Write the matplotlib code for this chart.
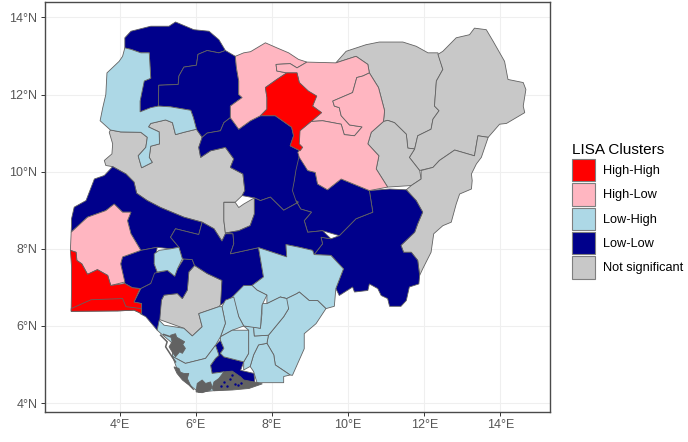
import matplotlib
matplotlib.use("Agg")
import matplotlib.pyplot as plt
from matplotlib.patches import Patch

plt.rcParams["font.family"] = ["Liberation Sans", "DejaVu Sans"]

# state outlines, (lon, lat)
sokoto = [(4.14,13.47),(4.30,13.64),(4.82,13.77),(5.30,13.77),(5.47,13.88),(5.95,13.68),(6.35,13.64),(6.61,13.42),(6.78,13.14),(6.61,13.08),(6.30,13.14),(6.06,13.04),(6.02,12.76),(5.69,12.71),(5.56,12.48),(5.54,12.26),(5.03,12.24),(5.02,11.70),(4.82,11.65),(4.54,11.55),(4.54,11.83),(4.64,12.35),(4.82,12.42),(4.78,13.08),(4.56,13.08),(4.30,13.17),(4.14,13.20)]
zamfara = [(6.78,13.14),(7.04,12.99),(7.07,12.69),(7.13,12.35),(7.13,12.0),(7.22,11.92),(7.09,11.83),(6.91,11.70),(6.91,11.40),(6.74,11.27),(6.65,11.06),(6.30,11.0),(6.17,10.89),(6.02,11.10),(5.94,11.40),(5.87,11.59),(5.34,11.68),(5.02,11.70),(5.03,12.24),(5.54,12.26),(5.56,12.48),(5.69,12.71),(6.02,12.76),(6.06,13.04),(6.30,13.14),(6.61,13.08)]
kebbi = [(4.14,13.21),(4.30,13.17),(4.56,13.08),(4.78,13.08),(4.82,12.42),(4.65,12.35),(4.54,11.83),(4.54,11.55),(4.82,11.66),(5.02,11.70),(5.34,11.68),(5.87,11.59),(5.94,11.40),(6.02,11.10),(5.69,11.02),(5.47,10.96),(5.39,11.27),(5.21,11.34),(4.82,11.25),(4.76,11.16),(5.04,11.03),(5.05,10.72),(4.82,10.66),(4.78,10.37),(4.86,10.24),(4.58,10.10),(4.49,10.41),(4.69,10.63),(4.73,10.89),(4.56,11.02),(4.03,11.03),(3.76,11.08),(3.49,11.32),(3.56,11.66),(3.64,12.0),(3.67,12.56),(3.99,12.86),(4.08,12.99)]
niger = [(3.76,11.08),(4.03,11.03),(4.56,11.02),(4.73,10.89),(4.69,10.63),(4.49,10.41),(4.58,10.10),(4.86,10.24),(4.78,10.37),(4.82,10.66),(5.05,10.72),(5.04,11.03),(4.76,11.16),(4.82,11.25),(5.21,11.34),(5.39,11.27),(5.47,10.96),(5.69,11.02),(6.02,11.10),(6.17,10.89),(6.08,10.63),(6.13,10.37),(6.39,10.54),(6.78,10.63),(7.0,10.33),(6.91,10.11),(7.24,9.94),(7.29,9.51),(7.22,9.38),(7.04,9.21),(6.74,9.21),(6.74,8.73),(6.78,8.39),(6.69,8.20),(6.48,8.52),(6.17,8.69),(5.69,8.82),(5.08,9.07),(4.73,9.25),(4.45,9.44),(4.38,9.73),(4.17,9.94),(3.82,10.13),(3.64,10.16),(3.60,10.29),(3.80,10.46),(3.82,10.72),(3.73,11.02)]
fct = [(6.74,9.20),(7.04,9.20),(7.13,9.07),(7.26,9.16),(7.54,9.32),(7.54,8.90),(7.43,8.60),(7.13,8.47),(6.78,8.41),(6.74,8.73)]
kwara = [(3.82,10.13),(4.17,9.94),(4.38,9.73),(4.45,9.44),(4.73,9.25),(5.08,9.07),(5.69,8.82),(6.17,8.69),(6.08,8.37),(5.47,8.52),(5.34,8.30),(5.56,8.04),(5.34,8.0),(4.99,8.04),(4.56,7.96),(4.30,8.39),(4.21,8.73),(4.30,8.95),(4.08,8.95),(3.86,9.16),(3.64,8.99),(3.16,8.82),(2.73,8.43),(2.74,8.64),(2.74,8.78),(2.81,9.08),(3.12,9.25),(3.34,9.81),(3.60,9.90)]
oyo = [(2.73,8.43),(3.16,8.82),(3.64,8.99),(3.86,9.16),(4.08,8.95),(4.30,8.95),(4.21,8.73),(4.30,8.39),(4.56,7.96),(4.08,7.79),(4.03,7.61),(4.14,7.14),(3.77,7.05),(3.69,7.31),(3.42,7.46),(3.16,7.34),(3.01,7.61),(2.88,7.70),(2.86,7.91),(2.71,7.96)]
ogun = [(2.71,7.96),(2.86,7.91),(2.88,7.70),(3.01,7.61),(3.16,7.34),(3.42,7.46),(3.69,7.31),(3.77,7.05),(4.14,7.10),(4.34,6.99),(4.54,6.97),(4.38,6.62),(4.58,6.58),(4.58,6.32),(4.38,6.41),(3.95,6.39),(2.73,6.38),(2.74,6.99),(2.74,7.53)]
lagos = [(2.73,6.45),(3.25,6.68),(4.08,6.71),(4.17,6.50),(4.58,6.45),(4.58,6.32),(4.38,6.41),(3.95,6.39),(2.73,6.38)]
osun = [(4.56,7.96),(4.99,8.04),(4.91,7.61),(4.99,7.40),(4.82,7.10),(4.56,6.97),(4.34,6.99),(4.14,7.10),(4.03,7.61),(4.08,7.79)]
ekiti = [(4.91,7.87),(5.04,7.96),(5.34,8.0),(5.56,8.04),(5.65,7.74),(5.52,7.48),(5.45,7.29),(5.26,7.44),(4.99,7.40),(4.91,7.61)]
ondo = [(4.56,6.97),(4.82,7.10),(4.92,7.37),(5.26,7.44),(5.45,7.29),(5.52,7.48),(5.69,7.74),(5.91,7.72),(5.97,7.57),(5.82,7.40),(5.78,6.93),(5.65,6.71),(5.52,6.84),(5.17,6.80),(5.10,6.67),(5.06,6.19),(4.99,5.89),(4.69,6.24),(4.54,6.32),(4.58,6.58),(4.38,6.62)]
edo = [(5.97,7.57),(6.30,7.36),(6.69,7.18),(6.67,6.58),(6.61,6.50),(6.08,6.32),(6.17,5.98),(5.91,5.74),(5.69,5.94),(5.04,6.17),(5.10,6.67),(5.17,6.80),(5.52,6.84),(5.65,6.71),(5.78,6.93),(5.82,7.40)]
kogi = [(6.17,8.69),(6.48,8.52),(6.69,8.20),(6.78,8.39),(6.98,8.39),(7.0,8.13),(6.91,7.87),(7.65,8.03),(7.78,7.27),(7.48,7.05),(6.96,6.75),(6.65,6.54),(6.69,7.18),(6.30,7.36),(5.97,7.57),(5.91,7.72),(5.65,7.74),(5.56,8.04),(5.34,8.30),(5.47,8.52),(6.08,8.37)]
kaduna = [(6.17,10.89),(6.30,11.0),(6.65,11.06),(6.74,11.27),(6.91,11.40),(7.13,11.10),(7.44,11.32),(7.70,11.45),(8.09,11.45),(8.52,11.15),(8.57,10.93),(8.48,10.67),(8.74,10.54),(8.74,10.29),(8.61,9.86),(8.57,9.51),(8.70,9.21),(8.31,9.0),(7.96,9.34),(7.70,9.25),(7.54,9.32),(7.22,9.38),(7.29,9.51),(7.24,9.94),(6.91,10.11),(7.0,10.33),(6.78,10.63),(6.39,10.54),(6.13,10.37),(6.08,10.63)]
katsina = [(7.04,12.99),(7.26,13.08),(7.44,13.11),(7.83,13.34),(8.13,13.21),(8.44,13.08),(8.70,12.91),(8.92,12.84),(8.66,12.69),(8.48,12.80),(8.11,12.78),(8.13,12.61),(8.39,12.56),(8.13,12.39),(7.83,12.18),(7.87,11.92),(7.87,11.62),(7.70,11.45),(7.44,11.32),(7.13,11.10),(6.91,11.40),(6.91,11.70),(7.09,11.83),(7.22,11.92),(7.13,12.0),(7.13,12.35),(7.07,12.69)]
jigawa = [(8.92,12.84),(9.68,12.82),(10.21,12.99),(10.52,12.78),(10.56,12.56),(10.39,12.48),(10.23,12.44),(10.12,12.05),(9.60,11.83),(9.64,11.70),(9.77,11.66),(9.82,11.45),(10.04,11.21),(10.37,11.16),(10.17,10.93),(9.90,10.96),(9.82,11.23),(9.33,11.32),(9.03,11.30),(9.29,11.53),(9.07,11.70),(9.16,11.96),(8.94,12.09),(8.72,12.31),(8.66,12.56),(8.39,12.56),(8.13,12.61),(8.11,12.78),(8.48,12.80),(8.66,12.69)]
kano = [(7.83,12.18),(8.13,12.39),(8.39,12.56),(8.66,12.56),(8.72,12.31),(8.96,12.09),(9.18,11.96),(9.07,11.70),(9.31,11.53),(9.03,11.30),(8.74,11.06),(8.72,10.72),(8.81,10.63),(8.74,10.54),(8.48,10.67),(8.57,10.93),(8.52,11.15),(8.09,11.45),(7.70,11.45),(7.87,11.62),(7.87,11.92)]
bauchi = [(10.23,12.44),(10.39,12.48),(10.56,12.56),(10.80,12.18),(10.96,11.58),(10.93,11.30),(10.61,11.02),(10.52,10.72),(10.81,10.41),(10.74,10.07),(11.04,9.60),(10.56,9.51),(9.82,9.81),(9.46,9.53),(9.20,9.68),(9.14,9.98),(8.94,10.03),(8.72,10.37),(8.68,10.50),(8.79,10.63),(8.70,10.72),(8.72,11.06),(9.03,11.30),(9.33,11.32),(9.82,11.23),(9.90,10.96),(10.17,10.93),(10.37,11.16),(10.04,11.21),(9.82,11.45),(9.77,11.66),(9.64,11.70),(9.60,11.83),(10.12,12.05)]
yobe = [(9.68,12.82),(9.95,13.12),(10.47,13.29),(10.82,13.36),(11.44,13.36),(11.79,13.25),(12.10,13.08),(12.36,13.08),(12.49,12.65),(12.32,12.35),(12.27,11.70),(12.39,11.58),(12.23,11.36),(12.18,11.10),(11.83,10.93),(11.75,10.59),(11.57,10.61),(11.53,10.97),(11.22,11.27),(11.04,11.33),(10.93,11.30),(10.96,11.58),(10.80,12.18),(10.56,12.56),(10.52,12.78),(10.21,12.99)]
borno = [(12.36,13.04),(12.49,12.65),(12.32,12.35),(12.27,11.70),(12.39,11.58),(12.23,11.36),(12.18,11.10),(11.83,10.93),(11.75,10.59),(11.61,10.37),(11.88,10.03),(12.23,10.11),(12.40,10.29),(12.80,10.56),(13.32,10.41),(13.41,10.93),(13.68,10.89),(13.98,11.23),(14.16,11.25),(14.64,11.53),(14.60,11.70),(14.67,12.13),(14.60,12.31),(14.20,12.39),(14.11,12.86),(13.81,13.38),(13.63,13.68),(13.32,13.72),(13.19,13.55),(12.84,13.47),(12.49,13.12)]
gombe = [(10.93,11.30),(11.04,11.33),(11.22,11.27),(11.53,10.97),(11.57,10.61),(11.75,10.59),(11.61,10.37),(11.88,10.03),(11.92,9.81),(11.66,9.64),(11.04,9.60),(10.74,10.07),(10.81,10.41),(10.52,10.72),(10.61,11.02)]
adamawa = [(11.53,9.53),(11.79,9.25),(11.96,8.95),(11.83,8.65),(11.75,8.43),(11.39,8.09),(11.46,7.91),(11.66,7.91),(11.83,7.70),(11.88,7.31),(11.96,7.48),(12.18,7.91),(12.25,8.39),(12.49,8.60),(12.71,8.69),(12.84,9.16),(12.93,9.42),(13.24,9.55),(13.26,9.77),(13.24,9.94),(13.37,10.20),(13.50,10.37),(13.68,10.89),(13.41,10.93),(13.32,10.41),(12.80,10.56),(12.40,10.29),(12.23,10.11),(11.92,10.03),(11.92,9.81),(11.66,9.64)]
taraba = [(9.33,8.13),(9.29,8.30),(9.55,8.26),(9.77,8.34),(10.21,8.78),(10.65,8.95),(10.56,9.51),(11.09,9.55),(11.53,9.53),(11.79,9.25),(11.96,8.95),(11.83,8.65),(11.75,8.43),(11.39,8.09),(11.46,7.91),(11.66,7.91),(11.83,7.70),(11.88,7.31),(11.86,7.09),(11.61,7.01),(11.53,6.66),(11.39,6.51),(11.09,6.51),(11.04,6.71),(10.87,6.79),(10.78,6.97),(10.56,7.09),(10.52,6.92),(10.17,6.88),(10.12,7.01),(9.77,6.79),(9.68,6.97),(9.88,7.48),(9.55,7.83),(9.11,7.85)]
plateau = [(8.74,10.50),(8.94,10.03),(9.14,9.98),(9.20,9.68),(9.46,9.53),(9.82,9.81),(10.56,9.51),(10.65,8.95),(10.21,8.78),(9.77,8.34),(9.33,8.47),(8.94,8.43),(8.85,8.73),(9.04,8.95),(8.76,9.03),(8.63,9.25),(8.54,9.51),(8.59,9.77),(8.63,10.03)]
nasarawa = [(7.54,9.32),(7.70,9.25),(7.96,9.34),(8.31,9.0),(8.70,9.21),(8.63,9.25),(8.76,9.03),(9.04,8.95),(8.85,8.73),(8.94,8.43),(9.33,8.47),(9.55,8.26),(9.29,8.30),(9.33,8.13),(9.11,7.85),(9.07,7.96),(8.72,8.04),(8.37,8.11),(8.39,7.79),(7.65,8.03),(6.91,7.87),(7.0,8.13),(6.98,8.39),(6.78,8.41),(7.13,8.47),(7.43,8.60),(7.54,8.90)]
benue = [(9.11,7.85),(9.07,7.96),(8.72,8.04),(8.37,8.11),(8.39,7.79),(7.65,8.03),(7.78,7.27),(7.48,7.05),(7.61,6.93),(7.87,6.80),(7.87,6.58),(8.22,6.75),(8.39,6.71),(8.66,6.84),(8.72,6.88),(8.98,6.66),(9.20,6.66),(9.42,6.45),(9.64,6.51),(9.68,6.97),(9.88,7.48),(9.55,7.83)]
cross_river = [(8.22,6.75),(8.39,6.71),(8.66,6.84),(8.72,6.88),(8.98,6.66),(9.20,6.66),(9.42,6.45),(9.16,6.06),(8.85,5.80),(8.85,5.41),(8.54,4.72),(8.48,4.73),(8.09,4.99),(8.05,5.25),(7.87,5.55),(7.91,5.76),(8.31,6.24),(8.44,6.45)]
akwa_ibom = [(7.65,5.51),(7.87,5.55),(8.05,5.25),(8.09,4.99),(8.48,4.73),(8.31,4.69),(8.31,4.53),(7.61,4.53),(7.52,4.82),(7.43,4.95),(7.52,5.25)]
abia = [(7.26,6.0),(7.52,5.98),(7.54,5.74),(7.91,5.76),(7.87,5.55),(7.65,5.51),(7.52,5.25),(7.43,4.95),(7.26,4.86),(7.26,5.07),(7.39,5.29),(7.39,5.89)]
ebonyi = [(7.74,6.58),(7.87,6.58),(8.22,6.75),(8.39,6.71),(8.44,6.45),(8.31,6.24),(7.91,5.76),(7.54,5.74),(7.52,5.98),(7.70,5.94),(7.74,6.32)]
enugu = [(6.96,6.75),(7.26,7.05),(7.48,7.05),(7.61,6.93),(7.87,6.80),(7.74,6.54),(7.70,5.94),(7.26,6.0),(7.13,6.24)]
anambra = [(6.78,6.67),(7.0,6.75),(7.13,6.24),(7.26,6.0),(6.96,5.89),(6.65,5.72),(6.78,6.07),(6.69,6.50)]
imo = [(6.65,5.72),(6.96,5.89),(7.39,5.89),(7.39,5.29),(7.26,5.07),(6.74,5.20),(6.65,5.29),(6.74,5.42),(6.65,5.63)]
delta = [(5.04,6.15),(5.17,6.02),(5.69,5.94),(5.91,5.74),(6.17,5.98),(6.08,6.32),(6.61,6.50),(6.69,6.50),(6.78,6.07),(6.65,5.72),(6.52,5.50),(6.26,5.16),(5.73,5.03),(5.39,5.21),(5.39,5.55),(5.08,5.81),(4.99,5.89)]
bayelsa = [(5.39,5.21),(5.73,5.03),(6.26,5.16),(6.52,5.50),(6.61,5.24),(6.52,5.16),(6.39,4.98),(6.43,4.77),(6.74,4.81),(6.74,4.35),(6.08,4.28),(5.78,4.52),(5.52,4.86)]
rivers = [(6.65,5.63),(6.74,5.42),(6.65,5.29),(6.74,5.20),(7.26,5.07),(7.18,4.85),(7.53,4.77),(7.55,4.55),(7.18,4.40),(6.74,4.35),(6.74,4.81),(6.43,4.77),(6.39,4.98),(6.52,5.16),(6.61,5.24),(6.52,5.50)]

# mangrove creeks in the delta, they read as solid border colour
creeks_a = [(5.34,5.76),(5.47,5.80),(5.50,5.71),(5.57,5.67),(5.71,5.59),(5.66,5.52),(5.73,5.42),(5.65,5.29),(5.58,5.33),(5.47,5.20),(5.38,5.33),(5.30,5.46),(5.38,5.59)]
creeks_b = [(5.43,4.94),(5.56,4.90),(5.60,4.80),(5.69,4.77),(5.82,4.77),(5.78,4.64),(5.86,4.47),(5.95,4.34),(5.82,4.47),(5.65,4.60),(5.51,4.77)]
creeks_c = [(6.01,4.29),(6.04,4.51),(6.17,4.60),(6.26,4.51),(6.39,4.55),(6.43,4.42),(6.39,4.34),(6.17,4.27)]
creeks_d = [(6.43,4.38),(6.48,4.55),(6.61,4.64),(6.74,4.81),(6.96,4.83),(7.18,4.68),(7.26,4.60),(7.53,4.55),(7.75,4.50),(7.40,4.38),(6.96,4.34),(6.48,4.32)]
creek_line_a = [(5.08,5.76),(5.25,5.59),(5.21,5.46),(5.38,5.20),(5.47,5.07)]
creek_line_b = [(5.16,5.78),(5.34,5.72)]
speck_lon = [6.74, 6.83, 6.90, 7.02, 7.12, 7.20, 6.66, 6.95]
speck_lat = [4.55, 4.44, 4.62, 4.50, 4.46, 4.52, 4.44, 4.72]

categories = ["High-High", "High-Low", "Low-High", "Low-Low", "Not significant"]
colours = ["red", "#ffb6c1", "#add8e6", "#00008b", "#c8c8c8"]

high_high = [kano, ogun, lagos]
high_low = [katsina, jigawa, bauchi, oyo]
low_high = [kebbi, ekiti, benue, cross_river, akwa_ibom, abia, ebonyi, enugu, anambra, imo, delta, bayelsa]
low_low = [sokoto, zamfara, kwara, osun, ondo, kogi, kaduna, taraba, plateau, nasarawa, rivers]
not_significant = [niger, fct, edo, yobe, borno, gombe, adamawa]
clusters = [not_significant, low_low, low_high, high_low, high_high]
cluster_colours = [colours[4], colours[3], colours[2], colours[1], colours[0]]

lon_ticks = [4, 6, 8, 10, 12, 14]
lat_ticks = [4, 6, 8, 10, 12, 14]
border = "#626262"

fig = plt.figure(figsize=(6.88, 4.42), dpi=100)
ax = fig.add_axes([44.5 / 688, 1 - 412 / 442, (549.5 - 44.5) / 688, (412 - 2.3) / 442])

for states, colour in zip(clusters, cluster_colours):
    for state in states:
        xs, ys = zip(*state)
        ax.fill(xs, ys, facecolor=colour, edgecolor=border, linewidth=0.6, zorder=2)

for creeks in [creeks_a, creeks_b, creeks_c, creeks_d]:
    xs, ys = zip(*creeks)
    ax.fill(xs, ys, facecolor=border, edgecolor=border, linewidth=0.6, zorder=3)
for creeks in [creek_line_a, creek_line_b]:
    xs, ys = zip(*creeks)
    ax.plot(xs, ys, color=border, linewidth=1.1, zorder=3)
ax.scatter(speck_lon, speck_lat, s=3, color=colours[3], linewidths=0, zorder=4)

ax.set_xlim(2.03, 15.29)
ax.set_ylim(3.77, 14.39)
ax.set_xticks(lon_ticks)
ax.set_yticks(lat_ticks)
ax.set_xticklabels([str(t) + "°E" for t in lon_ticks])
ax.set_yticklabels([str(t) + "°N" for t in lat_ticks])
ax.tick_params(colors="#333333", labelcolor="#555555", labelsize=9, length=2.7, width=0.7, pad=2.5)
ax.grid(True, color="#efefef", linewidth=0.8)
ax.set_axisbelow(True)
for spine in ax.spines.values():
    spine.set_color("#4a4a4a")
    spine.set_linewidth(1.0)

handles = [Patch(facecolor=c, edgecolor="#7f7f7f", linewidth=0.8) for c in colours]
leg = fig.legend(handles, categories, title="LISA Clusters", loc="upper left",
                 bbox_to_anchor=(562 / 688, 1 - 133 / 442), frameon=False, fontsize=9.2,
                 title_fontsize=11, handlelength=1.8, handleheight=2.33,
                 handletextpad=0.62, labelspacing=0.14, borderpad=0.3)
leg._legend_box.align = "left"

plt.savefig("out.png", dpi=100)
